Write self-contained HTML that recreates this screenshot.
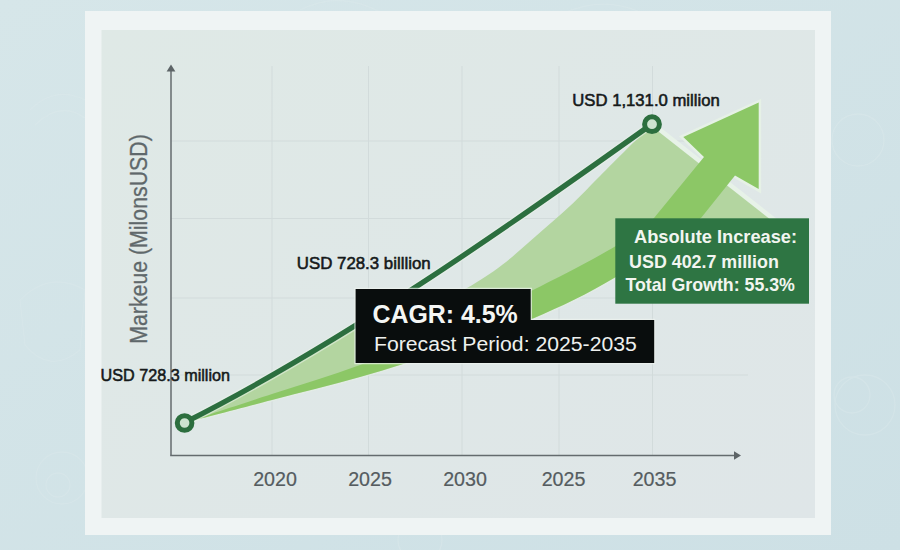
<!DOCTYPE html>
<html><head><meta charset="utf-8">
<style>
html,body{margin:0;padding:0;width:900px;height:550px;overflow:hidden;background:#d0e1e6;}
svg{display:block;font-family:"Liberation Sans",sans-serif;}
</style></head>
<body>
<svg width="900" height="550" viewBox="0 0 900 550">
  <defs>
    <linearGradient id="bg" x1="0" y1="0" x2="1" y2="1">
      <stop offset="0" stop-color="#d6e6e9"/>
      <stop offset="1" stop-color="#cde0e5"/>
    </linearGradient>
    <linearGradient id="panel" x1="0" y1="0" x2="1" y2="1">
      <stop offset="0" stop-color="#dfe9e6"/>
      <stop offset="1" stop-color="#dfe6e8"/>
    </linearGradient>
  </defs>
  <rect x="0" y="0" width="900" height="550" fill="url(#bg)"/>
  <!-- faint background doodles -->
  <g fill="none" stroke="#dbe9ec" stroke-width="1.3" opacity="0.45">
    <circle cx="858" cy="140" r="26"/>
    <circle cx="865" cy="405" r="30"/>
    <circle cx="852" cy="395" r="18"/>
    <circle cx="62" cy="478" r="26"/>
    <circle cx="58" cy="485" r="12"/>
    <path d="M20 300 Q50 270 85 290 L80 350 Q50 375 25 345 Z"/>
    <path d="M30 110 Q55 85 85 100 M35 125 Q60 100 85 118"/>
    <path d="M300 10 Q340 -10 380 12 M560 15 Q600 -5 640 12"/>
    <circle cx="420" cy="540" r="22"/>
  </g>
  <!-- frame -->
  <rect x="85" y="11" width="746" height="524" fill="#eff4f4"/>
  <rect x="101.5" y="30" width="713.5" height="488" fill="url(#panel)"/>

  <!-- gridlines -->
  <g stroke="#d2dbdb" stroke-width="1">
    <line x1="171" y1="141" x2="748" y2="141"/>
    <line x1="171" y1="218.5" x2="748" y2="218.5"/>
    <line x1="171" y1="298" x2="748" y2="298"/>
    <line x1="171" y1="375" x2="748" y2="375"/>
    <line x1="272" y1="66" x2="272" y2="455"/>
    <line x1="368.5" y1="66" x2="368.5" y2="455"/>
    <line x1="462" y1="66" x2="462" y2="455"/>
    <line x1="559" y1="66" x2="559" y2="455"/>
    <line x1="652.5" y1="66" x2="652.5" y2="455"/>
  </g>
  <!-- axes -->
  <g stroke="#646b6e" stroke-width="1.5" fill="none">
    <line x1="171" y1="68" x2="171" y2="455.5"/>
    <line x1="170.2" y1="455.5" x2="736" y2="455.5"/>
  </g>
  <path d="M171 64.5 L166.6 71.5 L175.4 71.5 Z" fill="#5d6467"/>
  <path d="M741 455.5 L734 451.3 L734 459.7 Z" fill="#5d6467"/>

  <!-- light green region -->
  <path d="M184.5 422.7 C242.6 393.3 301.3 359.3 360 322.7 L360 324.5 C370.0 320.8 400.2 318.3 420.0 310.0 C439.8 301.7 452.3 295.5 467.0 288.0 C480.7 280.2 490.5 273.7 502.0 265.0 C513.5 256.3 524.7 245.8 536.0 236.0 C547.3 226.2 559.3 216.0 570.0 206.0 C580.7 196.0 586.3 189.7 600.0 176.0 C613.7 162.3 643.3 132.7 652.0 124.0 L790 232 L790 300 L701 300 L615 277.6 C587.0 294.4 561.2 306.5 533.0 318.6 C504.8 330.7 474.8 340.3 446.0 350.0 C417.2 359.7 389.0 368.7 360.0 377.0 C331.0 385.3 301.2 392.4 272.0 400.0 C242.8 407.6 199.1 418.9 184.5 422.7 Z" fill="#b3d5a0"/>

  <!-- bright arrow -->
  <path d="M655 126 L790 232" stroke="#e7f2e8" stroke-width="4.5" fill="none"/>
  <path d="M704 157 L683.3 137.1 L758.7 102.6 L758.7 189.1 L735 175.5" fill="none" stroke="#e6f1e6" stroke-width="5" stroke-linejoin="miter"/>
  <path d="M701 218  C681.0 235.0 643.0 260.8 615.0 277.6 C587.0 294.4 561.2 306.5 533.0 318.6 C504.8 330.7 474.8 340.3 446.0 350.0 C417.2 359.7 389.0 368.7 360.0 377.0 C331.0 385.3 301.2 392.4 272.0 400.0 C242.8 407.6 199.1 418.9 184.5 422.7" fill="none" stroke="#e4efe4" stroke-opacity="0.6" stroke-width="3"/>
  <path d="M184.5 422.7 C199.1 417.9 242.8 403.6 272.0 394.0 C301.2 384.4 331.0 375.8 360.0 365.0 C389.0 354.2 417.4 341.4 446.0 329.0 C474.6 316.6 503.3 304.4 531.5 290.7 C559.7 276.9 594.6 258.6 615.0 246.5 C635.4 234.4 639.2 232.9 654.0 218.0 L704 157 L683.3 137.1 L758.7 102.6 L758.7 189.1 L735 175.5 L701 218 C681.0 235.0 643.0 260.8 615.0 277.6 C587.0 294.4 561.2 306.5 533.0 318.6 C504.8 330.7 474.8 340.3 446.0 350.0 C417.2 359.7 389.0 368.7 360.0 377.0 C331.0 385.3 301.2 392.4 272.0 400.0 C242.8 407.6 199.1 418.9 184.5 422.7 Z" fill="#8cc766"/>

  <!-- dark line -->
  <path d="M184.5 422.7 C340 344 500 232.6 652 124" fill="none" stroke="#e9f2ea" stroke-opacity="0.55" stroke-width="8" stroke-linecap="round"/>
  <path d="M184.5 422.7 C340 344 500 232.6 652 124" fill="none" stroke="#2c6f3f" stroke-width="5.3" stroke-linecap="round"/>
  <circle cx="184.6" cy="423" r="7.3" fill="#cde3cf" stroke="#2c6e3e" stroke-width="5"/>
  <circle cx="652" cy="124.2" r="7.4" fill="#cde3cf" stroke="#2c6e3e" stroke-width="5"/>

  <!-- labels -->
  <g fill="#15191a" stroke="#15191a" stroke-width="0.55">
    <text transform="translate(572.3 106) scale(1.03 1)" font-size="16.2">USD 1,131.0 million</text>
    <text transform="translate(296.8 268.8) scale(1.04 1)" font-size="16.2">USD 728.3 billlion</text>
    <text transform="translate(100.6 381.2) scale(0.963 1)" font-size="16.8">USD 728.3 million</text>
  </g>

  <!-- y label -->
  <text transform="translate(147 343.8) rotate(-90) scale(0.888 1)" font-size="24" fill="#5f686b" stroke="#5f686b" stroke-width="0.3">Markeue (MilonsUSD)</text>

  <!-- x labels -->
  <g fill="#555c60" stroke="#555c60" stroke-width="0.2" font-size="20.5" text-anchor="middle">
    <text transform="translate(275 486.4) scale(0.96 1)">2020</text>
    <text transform="translate(370 486.4) scale(0.96 1)">2025</text>
    <text transform="translate(465 486.4) scale(0.96 1)">2030</text>
    <text transform="translate(563.5 486.4) scale(0.96 1)">2025</text>
    <text transform="translate(654.5 486.4) scale(0.96 1)">2035</text>
  </g>

  <!-- CAGR box -->
  <path d="M355.6 289 H530.7 V320 H654.2 V363 H355.6 Z" fill="none" stroke="#eef4f0" stroke-opacity="0.7" stroke-width="2.5"/>
  <path d="M355.6 289 H530.7 V320 H654.2 V363 H355.6 Z" fill="#090d0d"/>
  <text transform="translate(372.5 322.5) scale(0.94 1)" font-size="26.5" font-weight="bold" fill="#f4f6f4">CAGR: 4.5%</text>
  <text transform="translate(374 351) scale(1.01 1)" font-size="21" fill="#eef0ee">Forecast Period: 2025-2035</text>

  <!-- green box -->
  <rect x="615.3" y="218.3" width="193.7" height="85.4" fill="#2e7543"/>
  <g fill="#f2f5f0" font-weight="bold" font-size="18.6">
    <text transform="translate(634 242.8) scale(0.98 1)">Absolute Increase:</text>
    <text transform="translate(629.1 267.6) scale(0.96 1)">USD 402.7 million</text>
    <text transform="translate(625.4 290.6) scale(0.956 1)">Total Growth: 55.3%</text>
  </g>
</svg>
</body></html>
